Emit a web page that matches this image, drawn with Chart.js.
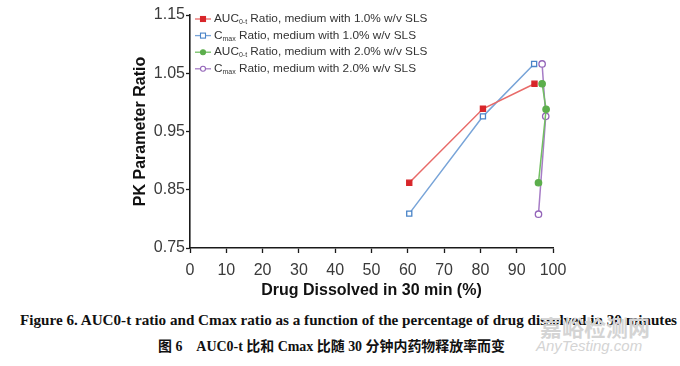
<!DOCTYPE html>
<html>
<head>
<meta charset="utf-8">
<script src="https://cdn.jsdelivr.net/npm/chart.js@4.4.1/dist/chart.umd.min.js"></script>
<style>
  body { margin: 0; background: #fff; width: 680px; height: 366px; overflow: hidden; position: relative; }
  #wrap { position: absolute; left: 0; top: 0; width: 680px; height: 300px; }
  .cap { position: absolute; white-space: nowrap; color: #111; font-family: "Liberation Serif", "Noto Sans CJK SC", serif; font-weight: bold; transform-origin: 0 0; }
  .wm { position: absolute; color: #d4d4d4; white-space: nowrap; }
</style>
</head>
<body>
<div id="wrap"><canvas id="chart" width="680" height="300"></canvas></div>
<div class="cap" id="cap1" data-w="657" style="left:20px;top:312px;font-size:14.6px">Figure 6. AUC0-t ratio and Cmax ratio as a function of the percentage of drug dissolved in 30 minutes</div>
<div class="cap" id="cap2" data-w="347" style="left:158px;top:335px;font-size:14px">图 6&nbsp;&nbsp;&nbsp; AUC0-t 比和 Cmax 比随 30 分钟内药物释放率而变</div>
<div class="wm" style="left:540px;top:310px;font-size:22px;font-family:'Noto Sans CJK SC';font-weight:bold">嘉峪检测网</div>
<div class="wm" style="left:536px;top:337px;font-size:15px;font-family:'Liberation Sans';font-style:italic">AnyTesting.com</div>

<script>
// Data: x = % dissolved in 30 min, y = test/reference ratio
const X_AUC_1 = [60.4, 80.7, 94.9];
const Y_AUC_1 = [0.862, 0.989, 1.032];
const X_CMAX_1 = [60.4, 80.7, 94.8];
const Y_CMAX_1 = [0.809, 0.976, 1.066];
const X_AUC_2 = [96.0, 98.1, 97.0];
const Y_AUC_2 = [0.862, 0.988, 1.032];
const X_CMAX_2 = [96.0, 98.0, 97.0];
const Y_CMAX_2 = [0.808, 0.976, 1.066];

const LABELS = [
  "AUC_{0-t} Ratio, medium with 1.0% w/v SLS",
  "C_{max} Ratio, medium with 1.0% w/v SLS",
  "AUC_{0-t} Ratio, medium with 2.0% w/v SLS",
  "C_{max} Ratio, medium with 2.0% w/v SLS",
];
const Y_TICKS = [0.75, 0.85, 0.95, 1.05, 1.15];
const X_TICKS = [0, 10, 20, 30, 40, 50, 60, 70, 80, 90, 100];

const SANS = "'Liberation Sans', Arial, sans-serif";
const AXIS = "#1a1a1a";

// stretch captions to the widths they have in the figure
document.querySelectorAll(".cap").forEach((el) => {
  const w = el.getBoundingClientRect().width;
  el.style.transform = `scaleX(${Number(el.dataset.w) / w})`;
});

const pts = (xs, ys) => xs.map((x, i) => ({ x, y: ys[i] }));

function series(label, xs, ys, line, mark, style, hollow) {
  return {
    label, data: pts(xs, ys), showLine: true,
    borderColor: line, borderWidth: 1.5,
    pointStyle: style, pointRadius: style === "rect" ? 3.6 : 3.2,
    pointBorderColor: mark, pointBorderWidth: 1.3,
    pointBackgroundColor: hollow ? "#fff" : mark,
  };
}

// legend with subscripts, drawn inside the plot top-left
const subLegend = {
  id: "subLegend",
  afterDatasetsDraw(chart) {
    const ctx = chart.ctx;
    ctx.save();
    chart.data.datasets.forEach((ds, i) => {
      const y = 19 + i * 16.6;
      const x0 = 195;
      ctx.strokeStyle = ds.borderColor;
      ctx.lineWidth = 1.3;
      ctx.beginPath(); ctx.moveTo(x0, y); ctx.lineTo(x0 + 16, y); ctx.stroke();
      ctx.fillStyle = ds.pointBackgroundColor;
      ctx.strokeStyle = ds.pointBorderColor;
      ctx.lineWidth = 1.1;
      if (ds.pointStyle === "rect") {
        ctx.fillRect(x0 + 5.5, y - 2.5, 5, 5); ctx.strokeRect(x0 + 5.5, y - 2.5, 5, 5);
      } else {
        ctx.beginPath(); ctx.arc(x0 + 8, y, 2.5, 0, Math.PI * 2); ctx.fill(); ctx.stroke();
      }
      let x = x0 + 19;
      ctx.fillStyle = "#333";
      ctx.textBaseline = "middle";
      ds.label.split(/(_\{[^}]*\})/).forEach((part) => {
        if (!part) return;
        const sub = part.startsWith("_{");
        const txt = sub ? part.slice(2, -1) : part;
        ctx.font = (sub ? "7px " : "11.8px ") + SANS;
        ctx.fillText(txt, x, sub ? y + 3 : y);
        x += ctx.measureText(txt).width;
      });
    });
    ctx.restore();
  },
};

new Chart(document.getElementById("chart"), {
  type: "scatter",
  data: {
    datasets: [
      series(LABELS[0], X_AUC_1, Y_AUC_1, "#e86a68", "#d8262a", "rect", false),
      series(LABELS[1], X_CMAX_1, Y_CMAX_1, "#78a4d8", "#4a84c8", "rect", true),
      series(LABELS[2], X_AUC_2, Y_AUC_2, "#72bf62", "#5cae4c", "circle", false),
      series(LABELS[3], X_CMAX_2, Y_CMAX_2, "#a67cc6", "#9364b8", "circle", true),
    ],
  },
  options: {
    responsive: false, animation: false,
    layout: { padding: { left: 0, right: 127, top: 15, bottom: 0 } },
    plugins: { legend: { display: false }, tooltip: { enabled: false } },
    scales: {
      x: {
        type: "linear", min: 0, max: 100,
        afterBuildTicks: (s) => { s.ticks = X_TICKS.map((v) => ({ value: v })); },
        afterFit: (s) => { s.height = 52; },
        grid: { drawOnChartArea: false, drawTicks: true, tickLength: 5, tickColor: AXIS, tickWidth: 1.3 },
        border: { display: true, color: AXIS, width: 1.6 },
        ticks: { color: "#3a3a3a", font: { family: SANS, size: 16 }, padding: 8, maxRotation: 0 },
        title: { display: true, text: "Drug Dissolved in 30 min (%)", color: "#111", font: { family: SANS, size: 16, weight: "bold" }, padding: { top: 0, bottom: 0 } },
      },
      y: {
        min: 0.75, max: 1.15,
        afterBuildTicks: (s) => { s.ticks = Y_TICKS.map((v) => ({ value: v })); },
        afterFit: (s) => { s.width = 190; },
        grid: { drawOnChartArea: false, drawTicks: true, tickLength: 4, tickColor: AXIS, tickWidth: 1.3 },
        border: { display: true, color: AXIS, width: 1.6 },
        ticks: { color: "#3a3a3a", font: { family: SANS, size: 16 }, padding: 1, callback: (v) => v.toFixed(2) },
        title: { display: true, text: "PK Parameter Ratio", color: "#111", font: { family: SANS, size: 16, weight: "bold" }, padding: { top: 131, bottom: 0 } },
      },
    },
  },
  plugins: [subLegend],
});
</script>
</body>
</html>
